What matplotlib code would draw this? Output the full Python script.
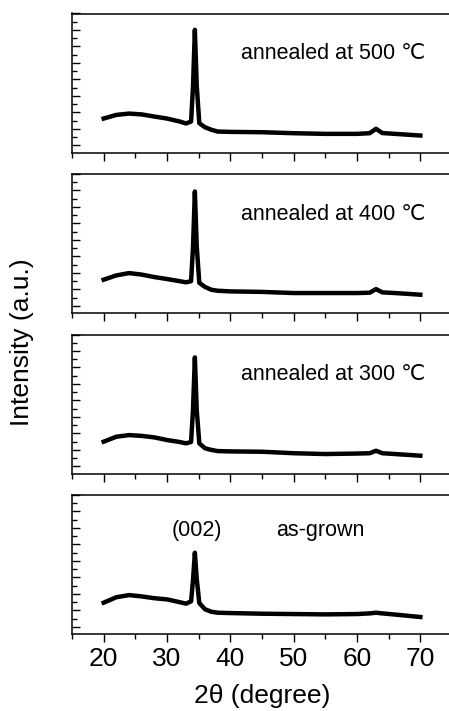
import numpy as np
import matplotlib.pyplot as plt
from matplotlib.ticker import MultipleLocator, NullFormatter

plt.rcParams['font.family'] = ['Liberation Sans', 'DejaVu Sans']

# 2theta positions
two_theta = [20, 22, 24, 26, 28, 30, 32, 33, 33.8, 34.1, 34.4, 34.7, 35.1, 36, 37, 38,
             40, 45, 50, 55, 60, 62, 63, 64, 66, 70]

# intensities (a.u., axis units) for each sample
i_500 = [1.63, 1.85, 1.93, 1.88, 1.75, 1.63, 1.45, 1.33, 1.45, 3.5, 7.01, 3.6, 1.35, 1.10, 0.95, 0.84,
         0.82, 0.80, 0.74, 0.70, 0.70, 0.74, 1.01, 0.75, 0.70, 0.60]
i_400 = [1.59, 1.85, 1.99, 1.90, 1.75, 1.63, 1.50, 1.43, 1.50, 3.5, 6.94, 3.6, 1.40, 1.15, 0.98, 0.92,
         0.88, 0.85, 0.78, 0.78, 0.78, 0.80, 1.02, 0.82, 0.78, 0.68]
i_300 = [1.50, 1.80, 1.90, 1.85, 1.76, 1.60, 1.48, 1.40, 1.48, 3.4, 6.61, 3.4, 1.40, 1.10, 1.00, 0.93,
         0.91, 0.89, 0.80, 0.75, 0.78, 0.80, 0.95, 0.80, 0.75, 0.65]
i_asg = [1.47, 1.80, 1.93, 1.85, 1.74, 1.67, 1.50, 1.41, 1.55, 2.8, 4.50, 2.9, 1.45, 1.07, 0.92, 0.86,
         0.84, 0.80, 0.78, 0.76, 0.78, 0.82, 0.86, 0.82, 0.75, 0.60]

series = [i_500, i_400, i_300, i_asg]
labels = ['annealed at 500 \u2103', 'annealed at 400 \u2103', 'annealed at 300 \u2103', 'as-grown']
xticks = [20, 30, 40, 50, 60, 70]

W, H = 449, 711
fig = plt.figure(figsize=(W / 100, H / 100), dpi=100)

tops = [13.5, 174, 334.5, 495]
ph = 139
left = 72
width = 380

axes = []
for k, top in enumerate(tops):
    ax = fig.add_axes([left / W, (H - top - ph) / H, width / W, ph / H])
    ax.plot(two_theta, series[k], color='black', lw=3.2, solid_joinstyle='round')
    ax.set_xlim(15, 75)
    ax.set_ylim(-0.43, 8)
    ax.set_xticks(xticks)
    ax.xaxis.set_minor_locator(MultipleLocator(5))
    ax.yaxis.set_major_locator(MultipleLocator(1))
    ax.yaxis.set_minor_locator(MultipleLocator(0.5))
    ax.yaxis.set_major_formatter(NullFormatter())
    ax.tick_params(axis='x', which='major', direction='out', length=6, width=1, labelsize=19, pad=3)
    ax.tick_params(axis='x', which='minor', direction='out', length=3.5, width=1)
    ax.tick_params(axis='y', which='major', direction='in', length=6, width=1)
    ax.tick_params(axis='y', which='minor', direction='in', length=3.5, width=1)
    for s in ax.spines.values():
        s.set_linewidth(1.1)
    if k < 3:
        ax.set_xticklabels([])
        ax.text(70.8, 0.712, labels[k], transform=ax.get_xaxis_transform(),
                ha='right', va='center', fontsize=15.5)
    else:
        ax.text(54.2, 5.85, labels[k], ha='center', va='center', fontsize=15.5)
        ax.text(34.75, 5.85, '(002)', ha='center', va='center', fontsize=15.5)
        ax.set_xlabel('2\u03b8 (degree)', fontsize=19, labelpad=10)
    axes.append(ax)

fig.text(22 / W, 1 - 342 / H, 'Intensity (a.u.)', rotation=90, ha='center', va='center', fontsize=19)

fig.savefig('out.png', dpi=100)
